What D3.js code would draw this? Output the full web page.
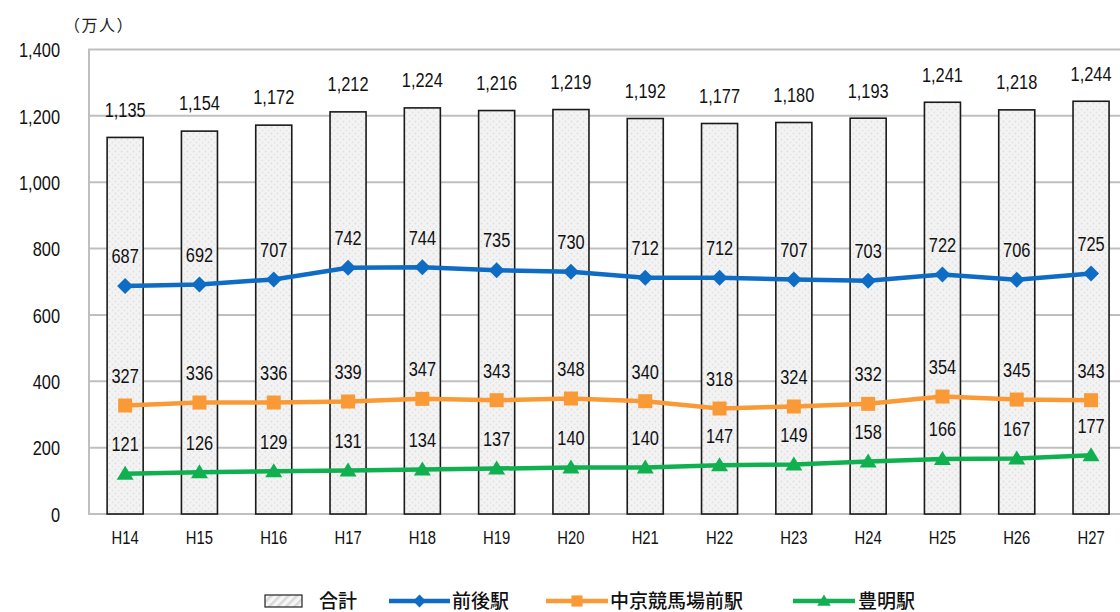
<!DOCTYPE html>
<html><head><meta charset="utf-8">
<script src="https://cdn.jsdelivr.net/npm/d3@7"></script>
<style>
html,body{margin:0;padding:0;background:#fff;}
svg{display:block;}
.num{font-family:"Liberation Sans",Arial,sans-serif;}
.jp{font-family:"Noto Sans CJK JP",sans-serif;}
</style></head>
<body>
<svg id="c" width="1120" height="612"></svg>
<script>
const categories = ["H14","H15","H16","H17","H18","H19","H20","H21","H22","H23","H24","H25","H26","H27"];
const totalValues = [1135,1154,1172,1212,1224,1216,1219,1192,1177,1180,1193,1241,1218,1244];
const maegoValues = [687,692,707,742,744,735,730,712,712,707,703,722,706,725];
const chukyoValues = [327,336,336,339,347,343,348,340,318,324,332,354,345,343];
const toyoakeValues = [121,126,129,131,134,137,140,140,147,149,158,166,167,177];
const yTicks = [0,200,400,600,800,1000,1200,1400];
const seriesNames = ["合計","前後駅","中京競馬場前駅","豊明駅"];
const unitLabel = "（万人）";

const SX = 0.78;
const fmt = d3.format(",");
const svg = d3.select("#c");
const defs = svg.append("defs");
const pat = defs.append("pattern").attr("id","dots").attr("patternUnits","userSpaceOnUse")
  .attr("width",6).attr("height",6);
pat.append("rect").attr("width",6).attr("height",6).attr("fill","#f3f3f3");
pat.append("circle").attr("cx",1.5).attr("cy",1.5).attr("r",0.9).attr("fill","#dedede");
pat.append("circle").attr("cx",4.5).attr("cy",4.5).attr("r",0.9).attr("fill","#e4e4e4");
const hatch = defs.append("pattern").attr("id","hatch").attr("patternUnits","userSpaceOnUse")
  .attr("width",6).attr("height",6).attr("patternTransform","rotate(45)");
hatch.append("rect").attr("width",6).attr("height",6).attr("fill","#f6f6f6");
hatch.append("rect").attr("width",2.5).attr("height",6).attr("fill","#d8d8d8");

const x = d3.scaleBand().domain(categories).range([88, 88 + 14*74.3]).paddingInner(0.515).paddingOuter(0.2575);
const y = d3.scaleLinear().domain([0,1400]).range([514,49.5]);
const cx = d => x(d) + x.bandwidth()/2;

// gridlines
svg.append("g").selectAll("line").data(yTicks).join("line")
  .attr("x1",88).attr("x2",1120).attr("y1",d=>y(d)).attr("y2",d=>y(d))
  .attr("stroke","#bfbfbf").attr("stroke-width",2);
svg.append("line").attr("x1",89).attr("x2",89).attr("y1",y(1400)).attr("y2",y(0))
  .attr("stroke","#bfbfbf").attr("stroke-width",2);

// y axis labels
const yAxis = d3.axisLeft(y).tickValues(yTicks).tickSize(0).tickPadding(0).tickFormat(fmt);
const ya = svg.append("g").attr("transform","translate(60,0)").call(yAxis);
ya.select(".domain").remove();
ya.selectAll("text").attr("class","num").attr("font-size",21).attr("fill","#111")
  .attr("dy","0.35em").attr("transform",`scale(${SX},1)`);

// x axis labels
const xAxis = d3.axisBottom(x).tickSize(0).tickPadding(0);
const xa = svg.append("g").attr("transform","translate(0,537)").call(xAxis);
xa.select(".domain").remove();
xa.selectAll("text").attr("class","num").attr("font-size",19).attr("fill","#111")
  .attr("dy","0.35em").attr("transform",`scale(${SX},1)`);

// unit
svg.append("text").attr("class","jp").attr("x",99).attr("y",25).attr("text-anchor","middle")
  .attr("dy","0.35em").attr("font-size",16).attr("letter-spacing",1.5).attr("fill","#222").text(unitLabel);

// bars
svg.append("g").selectAll("rect").data(categories).join("rect")
  .attr("x",d=>x(d)).attr("width",x.bandwidth())
  .attr("y",(d,i)=>y(totalValues[i])).attr("height",(d,i)=>y(0)-y(totalValues[i]))
  .attr("fill","url(#dots)").attr("stroke","#1a1a1a").attr("stroke-width",1.6);

svg.append("g").selectAll("text").data(categories).join("text")
  .attr("class","num")
  .attr("transform",(d,i)=>`translate(${cx(d)},${y(totalValues[i])-28}) scale(${SX},1)`)
  .attr("text-anchor","middle").attr("dy","0.35em").attr("font-size",21).attr("fill","#111")
  .text((d,i)=>fmt(totalValues[i]));

// lines
const series = [
  {vals:maegoValues, color:"#0f6cc4", shape:"diamond"},
  {vals:chukyoValues, color:"#f99a36", shape:"square"},
  {vals:toyoakeValues, color:"#10b050", shape:"triangle"}
];
function markerD(shape){
  if(shape==="diamond") return "M0,-8L8,0L0,8L-8,0Z";
  if(shape==="square") return "M-7,-7H7V7H-7Z";
  return "M0,-8L8.5,6L-8.5,6Z";
}
const line = d3.line().x((v,i)=>cx(categories[i])).y(v=>y(v));
series.forEach(s=>{
  svg.append("path").datum(s.vals).attr("d",line).attr("fill","none")
    .attr("stroke",s.color).attr("stroke-width",4.5);
  svg.append("g").selectAll("path").data(s.vals).join("path")
    .attr("transform",(v,i)=>`translate(${cx(categories[i])},${y(v)})`)
    .attr("d",markerD(s.shape)).attr("fill",s.color);
  svg.append("g").selectAll("text").data(s.vals).join("text")
    .attr("class","num")
    .attr("transform",(v,i)=>`translate(${cx(categories[i])},${y(v)-30}) scale(${SX},1)`)
    .attr("text-anchor","middle").attr("dy","0.35em").attr("font-size",21).attr("fill","#111")
    .text(v=>v);
});

// legend
const ly = 601;
const lg = svg.append("g");
lg.append("rect").attr("x",265).attr("y",ly-6).attr("width",37).attr("height",12)
  .attr("fill","url(#hatch)").attr("stroke","#222").attr("stroke-width",1.2);
lg.append("text").attr("class","jp").attr("x",319).attr("y",ly).attr("dy","0.35em")
  .attr("font-size",19).attr("font-weight",500).attr("fill","#111").text(seriesNames[0]);
const legItems = [
  {x1:389,x2:450,tx:452,s:series[0],name:seriesNames[1]},
  {x1:546,x2:608,tx:610,s:series[1],name:seriesNames[2]},
  {x1:793,x2:855,tx:858,s:series[2],name:seriesNames[3]}
];
legItems.forEach(it=>{
  lg.append("line").attr("x1",it.x1).attr("x2",it.x2).attr("y1",ly).attr("y2",ly)
    .attr("stroke",it.s.color).attr("stroke-width",4.5);
  lg.append("path").attr("transform",`translate(${(it.x1+it.x2)/2},${ly}) scale(0.8)`)
    .attr("d",markerD(it.s.shape)).attr("fill",it.s.color);
  lg.append("text").attr("class","jp").attr("x",it.tx).attr("y",ly).attr("dy","0.35em")
    .attr("font-size",19).attr("font-weight",500).attr("fill","#111").text(it.name);
});
</script>
</body></html>
